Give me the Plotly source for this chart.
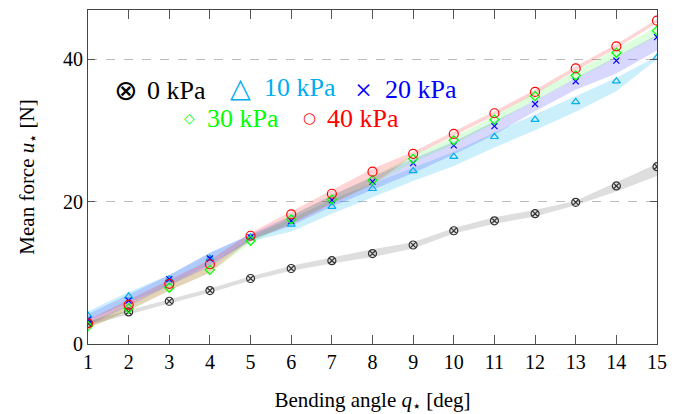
import plotly.graph_objects as go

angles = list(range(1, 16))

labels = ["0 kPa", "10 kPa", "20 kPa", "30 kPa", "40 kPa"]
colors = ["#333333", "#00AEEF", "#0000FF", "#00FF00", "#FF0000"]
band_colors = ["rgba(0,0,0,0.13)", "rgba(0,174,239,0.2)", "rgba(60,60,255,0.2)",
               "rgba(0,255,0,0.13)", "rgba(255,0,0,0.17)"]

mean_0 = [2.9, 4.5, 6.0, 7.5, 9.2, 10.6, 11.7, 12.7, 13.9, 15.9, 17.3, 18.3, 19.9, 22.2, 24.9]
lo_0 = [2.6, 4.2, 5.7, 7.2, 8.9, 10.3, 11.3, 12.2, 13.4, 15.5, 16.9, 17.9, 19.5, 21.4, 23.6]
hi_0 = [3.2, 4.8, 6.3, 7.8, 9.5, 11.0, 12.2, 13.3, 14.3, 16.3, 17.8, 18.8, 20.1, 22.7, 25.3]

mean_10 = [4.0, 6.7, 9.1, 12.0, 15.0, 16.8, 19.3, 21.8, 24.3, 26.3, 29.1, 31.5, 34.0, 36.9, 40.2]
lo_10 = [3.3, 5.8, 8.3, 11.2, 14.4, 15.8, 18.3, 20.6, 22.9, 25.0, 27.6, 30.0, 32.6, 35.5, 40.0]
hi_10 = [4.6, 7.3, 9.7, 12.8, 15.3, 17.6, 20.3, 22.5, 24.8, 27.0, 29.7, 32.2, 34.8, 37.4, 40.4]

mean_20 = [3.4, 6.1, 9.1, 12.0, 15.0, 17.3, 20.2, 22.8, 25.4, 27.9, 30.6, 33.7, 36.9, 39.8, 43.1]
lo_20 = [2.6, 5.3, 8.2, 10.9, 14.6, 16.6, 19.3, 21.6, 24.0, 26.6, 29.4, 32.7, 35.7, 38.0, 41.2]
hi_20 = [4.2, 6.9, 9.7, 12.8, 15.4, 18.0, 20.9, 23.5, 26.0, 28.4, 31.3, 34.2, 37.3, 40.3, 43.4]

mean_30 = [2.5, 5.0, 7.9, 10.4, 14.5, 17.5, 20.3, 23.0, 26.0, 28.6, 31.5, 34.8, 37.7, 40.9, 44.0]
lo_30 = [2.2, 4.6, 7.5, 10.0, 14.2, 17.0, 19.8, 22.4, 25.5, 28.0, 31.0, 34.2, 37.1, 40.2, 43.2]
hi_30 = [3.0, 5.6, 8.5, 11.0, 14.9, 18.0, 20.8, 23.5, 26.5, 29.1, 32.0, 35.3, 38.3, 41.5, 44.6]

mean_40 = [2.9, 5.5, 8.45, 11.2, 15.2, 18.2, 21.1, 24.2, 26.7, 29.5, 32.4, 35.4, 38.7, 41.8, 45.4]
lo_40 = [2.2, 4.7, 7.5, 10.0, 14.6, 16.8, 19.7, 22.4, 26.4, 29.2, 32.1, 35.1, 38.4, 41.5, 45.1]
hi_40 = [3.4, 6.2, 9.0, 11.8, 15.6, 18.6, 21.6, 24.6, 27.0, 29.8, 32.7, 35.7, 39.0, 42.1, 45.6]

means = [mean_0, mean_10, mean_20, mean_30, mean_40]
los = [lo_0, lo_10, lo_20, lo_30, lo_40]
his = [hi_0, hi_10, hi_20, hi_30, hi_40]

symbols = ["circle-x-open", "triangle-up-open", "x-thin-open", "diamond-open", "circle-open"]
msizes = [8, 7, 6, 7, 9]

FONT = "Liberation Serif"

fig = go.Figure()

# bands
for i in range(5):
    fig.add_trace(go.Scatter(
        x=angles + angles[::-1], y=his[i] + los[i][::-1],
        fill="toself", fillcolor=band_colors[i], line=dict(width=0),
        mode="lines", showlegend=False, hoverinfo="skip"))

# markers
for i in range(5):
    fig.add_trace(go.Scatter(
        x=angles, y=means[i], mode="markers", name=labels[i],
        marker=dict(symbol=symbols[i], size=msizes[i], color=colors[i],
                    line=dict(width=1.2, color=colors[i])),
        showlegend=False))

# legend built from annotations (symbol, centre x px, centre y px, size, font, label, label left px)
legend_items = [
    ("\u2297", 125, 90, 28, "DejaVu Sans", "0 kPa", 145),
    ("\u25B3", 240, 88, 27, "DejaVu Sans", "10 kPa", 262),
    ("\u00D7", 363, 89, 30, FONT, "20 kPa", 383),
    ("\u25C7", 189, 118, 14, "DejaVu Sans", "30 kPa", 205),
    ("\u25CB", 309, 118, 15, "DejaVu Sans", "40 kPa", 325),
]
L, T, W, H = 88, 10, 569, 334
txt_colors = ["#000000", "#00AEEF", "#0000FF", "#00FF00", "#FF0000"]
for i, (sym, sx, sy, ssz, sfont, lab, tx) in enumerate(legend_items):
    fig.add_annotation(x=(sx - L) / W, y=(T + H - sy) / H, xref="paper", yref="paper",
                       text=sym, showarrow=False, xanchor="center", yanchor="middle",
                       font=dict(family=sfont, size=ssz, color=txt_colors[i]))
    fig.add_annotation(x=(tx - L) / W, y=(T + H - sy) / H, xref="paper", yref="paper",
                       text=lab, showarrow=False, xanchor="left", yanchor="middle",
                       font=dict(family=FONT, size=26, color=txt_colors[i]))

fig.update_layout(
    width=678, height=414,
    margin=dict(l=88, r=21, t=10, b=70),
    plot_bgcolor="white", paper_bgcolor="white",
    font=dict(family=FONT, size=21, color="black"),
    xaxis=dict(range=[1, 15], tickmode="array", tickvals=angles, automargin=False,
               ticks="inside", ticklen=9, tickcolor="#555555", mirror="ticks",
               showline=True, linecolor="#444444", linewidth=1.2, showgrid=False,
               zeroline=False, tickfont=dict(size=20),
               title=dict(text="Bending angle <i>q</i><sub>\u22c6</sub> [deg]", standoff=26,
                          font=dict(size=21))),
    yaxis=dict(range=[0, 46.9], tickvals=[0, 20, 40], automargin=False,
               ticks="inside", ticklen=7, tickcolor="#555555", mirror="ticks",
               showline=True, linecolor="#444444", linewidth=1.2,
               showgrid=True, gridcolor="#BBBBBB", griddash="dash", gridwidth=1,
               zeroline=False, tickfont=dict(size=20),
               title=dict(text="Mean force <i>u</i><sub>\u22c6</sub> [N]", standoff=22,
                          font=dict(size=21))),
)

fig.write_html("out.html")
